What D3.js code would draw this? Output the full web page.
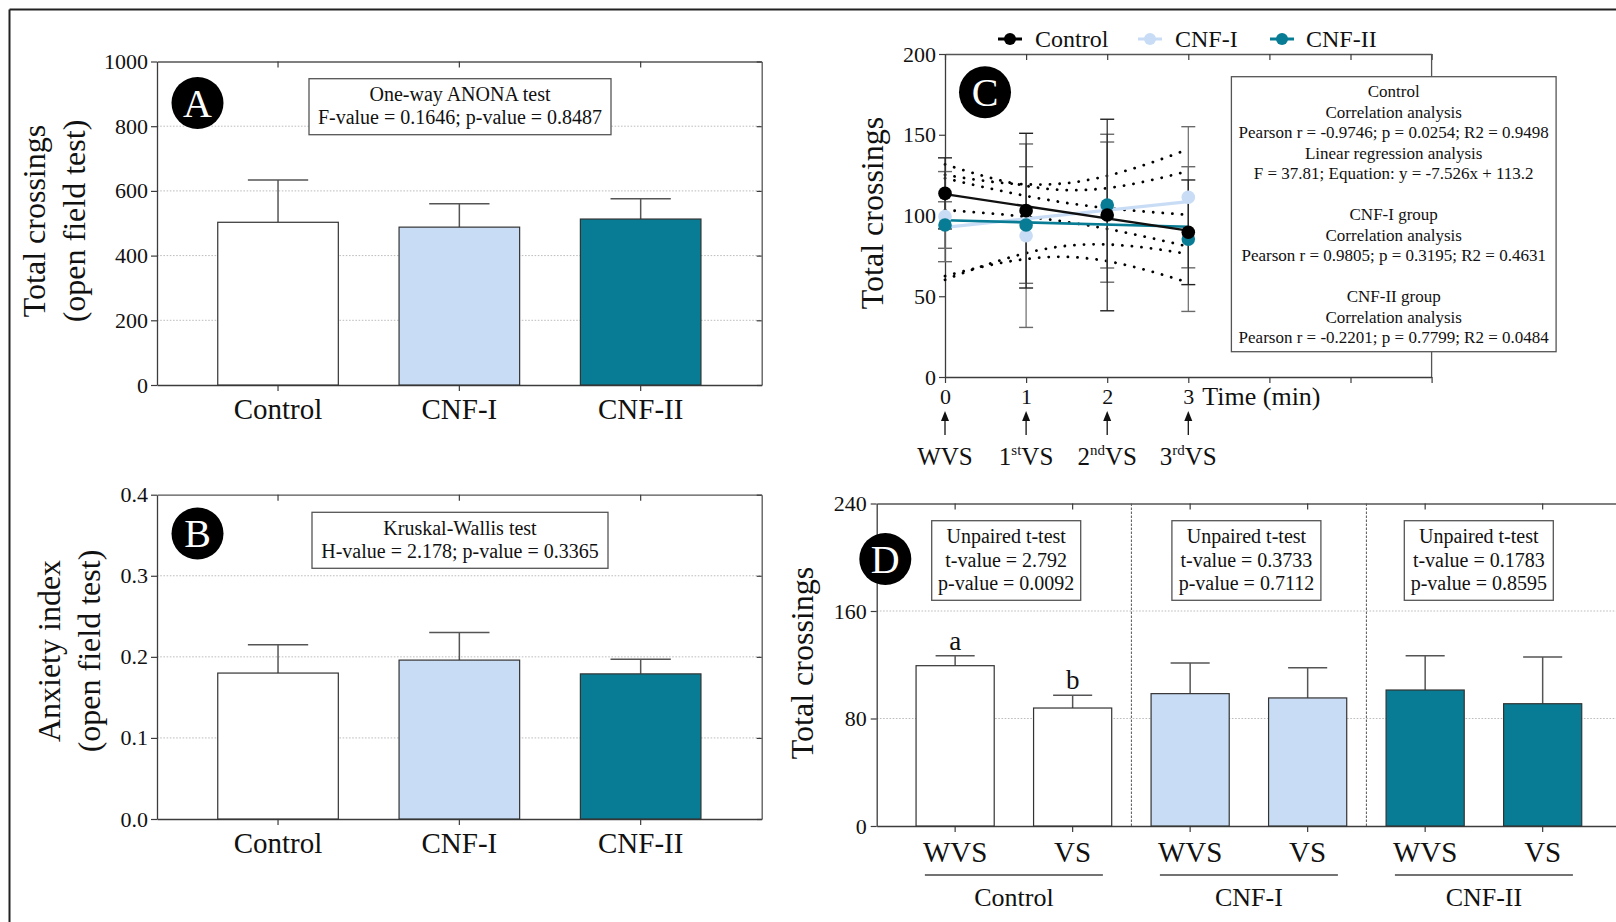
<!DOCTYPE html>
<html>
<head>
<meta charset="utf-8">
<script src="https://cdn.jsdelivr.net/npm/d3@7"></script>
<style>
  html, body { margin: 0; padding: 0; background: #ffffff; }
  svg { display: block; font-family: 'Liberation Serif', 'Times New Roman', serif; }
</style>
</head>
<body>
<svg id="fig" width="1616" height="922"></svg>
<script>
// ---------------- data ----------------
const groups = ["Control", "CNF-I", "CNF-II"];
const groupFill = ["#ffffff", "#c8ddf5", "#087c94"];

// A - total crossings in the open field test (mean and upper error)
const crossingsMean = [503, 488, 513];
const crossingsErr = [131, 72, 63];
const crossingsTicks = [0, 200, 400, 600, 800, 1000];
const anovaLines = ["One-way ANONA test", "F-value = 0.1646; p-value = 0.8487"];

// B - anxiety index in the open field test
const anxietyMean = [0.180, 0.196, 0.179];
const anxietyErr = [0.035, 0.034, 0.018];
const anxietyTicks = [0, 0.1, 0.2, 0.3, 0.4];
const kruskalLines = ["Kruskal-Wallis test", "H-value = 2.178; p-value = 0.3365"];

// C - crossings per minute of the test
const minutes = [0, 1, 2, 3];
const minuteTicks = [0, 1, 2, 3, 4, 5, 6];
const minuteLabels = [["WVS", ""], ["1", "st"], ["2", "nd"], ["3", "rd"]];
const crossTicksC = [0, 50, 100, 150, 200];
const controlByMin = [113.7, 103.0, 100.3, 89.6];
const controlByMinErr = [22.0, 47.9, 59.3, 32.4];
const cnf1ByMin = [99.3, 87.5, 104.5, 111.3];
const cnf1ByMinErr = [27.9, 56.8, 45.8, 43.7];
const cnf2ByMin = [94.1, 94.1, 106.5, 85.4];
const cnf2ByMinErr = [14.4, 36.1, 39.0, 44.8];
// fitted lines y = slope * x + intercept, with their R2
const regSlope = [-7.526, 5.30, -1.37];
const regIntercept = [113.2, 92.7, 97.1];
const regR2 = [0.9498, 0.4631, 0.0484];
const statsLines = [
  "Control", "Correlation analysis",
  "Pearson r = -0.9746; p = 0.0254; R2 = 0.9498",
  "Linear regression analysis",
  "F = 37.81; Equation: y = -7.526x + 113.2", "",
  "CNF-I group", "Correlation analysis",
  "Pearson r = 0.9805; p = 0.3195; R2 = 0.4631", "",
  "CNF-II group", "Correlation analysis",
  "Pearson r = -0.2201; p = 0.7799; R2 = 0.0484"
];

// D - crossings without (WVS) and with (VS) visual stimulus
const phases = ["WVS", "VS"];
const dControl = [119.3, 87.8];
const dControlErr = [7.4, 9.5];
const dCnf1 = [98.5, 95.3];
const dCnf1Err = [22.8, 22.5];
const dCnf2 = [101.2, 91.0];
const dCnf2Err = [25.5, 34.8];
const dTicks = [0, 80, 160, 240];
const dLetters = ["a", "b"];
const tTestLines = [
  ["Unpaired t-test", "t-value = 2.792", "p-value = 0.0092"],
  ["Unpaired t-test", "t-value = 0.3733", "p-value = 0.7112"],
  ["Unpaired t-test", "t-value = 0.1783", "p-value = 0.8595"]
];

// ---------------- styling ----------------
const AXIS = "#3c3c3c", FRAME = "#555555", GRID = "#bdbdbd", ERR = "#555555";
const svg = d3.select("#fig");

// outer figure border
svg.append("line").attr("x1", 9.5).attr("x2", 1616).attr("y1", 9.5).attr("y2", 9.5)
  .attr("stroke", "#222").attr("stroke-width", 2);
svg.append("line").attr("x1", 9.5).attr("x2", 9.5).attr("y1", 9.5).attr("y2", 922)
  .attr("stroke", "#222").attr("stroke-width", 2);

function styleAxis(sel, fontSize) {
  sel.selectAll("path.domain").attr("stroke", AXIS).attr("stroke-width", 1.3);
  sel.selectAll(".tick line").attr("stroke", AXIS).attr("stroke-width", 1.2);
  sel.selectAll(".tick text").attr("fill", "#111").style("font-size", fontSize + "px")
    .style("font-family", "'Liberation Serif', serif");
}

function badge(cx, cy, letter) {
  svg.append("circle").attr("cx", cx).attr("cy", cy).attr("r", 26).attr("fill", "#000");
  svg.append("text").attr("x", cx).attr("y", cy + 13.5).attr("text-anchor", "middle")
    .attr("fill", "#fff").style("font-size", "40px").text(letter);
}

function statBox(x, y, w, h, lines, cx, baseline0, step, fontSize) {
  svg.append("rect").attr("x", x).attr("y", y).attr("width", w).attr("height", h)
    .attr("fill", "#fff").attr("stroke", FRAME).attr("stroke-width", 1.3);
  lines.forEach((t, i) => {
    if (!t) return;
    svg.append("text").attr("x", cx).attr("y", baseline0 + i * step)
      .attr("text-anchor", "middle").style("font-size", fontSize + "px").attr("fill", "#111").text(t);
  });
}

function yTitle(text, bx, cy) {
  svg.append("text").attr("transform", `translate(${bx},${cy}) rotate(-90)`)
    .attr("text-anchor", "middle").style("font-size", "32px").attr("fill", "#111").text(text);
}

// frame (left/bottom axes, top/right borders with inner ticks) for a band-x panel
function barFrame(x, y, ticks, fmt, opts) {
  const g = svg.append("g");
  const [xl, xr] = x.range();
  const [yb, yt] = y.range();
  // dotted grid
  g.selectAll("line.grid").data(ticks.filter(t => t > ticks[0] && t < ticks[ticks.length - 1]))
    .join("line").attr("x1", xl).attr("x2", Math.min(xr, 1616)).attr("y1", d => y(d)).attr("y2", d => y(d))
    .attr("stroke", GRID).attr("stroke-width", 1).attr("stroke-dasharray", "1.6,1.6");
  // top border with inner ticks
  const top = g.append("g").attr("transform", `translate(0,${yt})`)
    .call(d3.axisTop(x).tickSize(-6).tickSizeOuter(0).tickFormat(""));
  styleAxis(top, 10);
  top.selectAll("path.domain").attr("stroke", FRAME);
  if (opts.right) {
    const right = g.append("g").attr("transform", `translate(${xr},0)`)
      .call(d3.axisRight(y).tickValues(ticks).tickSize(-5).tickSizeOuter(0).tickFormat(""));
    styleAxis(right, 10);
    right.selectAll("path.domain").attr("stroke", FRAME);
  }
  const left = g.append("g").attr("transform", `translate(${xl},0)`)
    .call(d3.axisLeft(y).tickValues(ticks).tickSize(6).tickPadding(opts.pad || 3).tickSizeOuter(0).tickFormat(fmt));
  styleAxis(left, 22);
  const bottom = g.append("g").attr("transform", `translate(0,${yb})`)
    .call(d3.axisBottom(x).tickSize(6).tickSizeOuter(0).tickFormat(""));
  styleAxis(bottom, 10);
  return g;
}

function bars(x, y, keys, vals, errs, fills) {
  const g = svg.append("g");
  const bw = x.bandwidth();
  keys.forEach((k, i) => {
    const cx = x(k) + bw / 2;
    // error bar (upper only)
    g.append("line").attr("x1", cx).attr("x2", cx).attr("y1", y(vals[i])).attr("y2", y(vals[i] + errs[i]))
      .attr("stroke", ERR).attr("stroke-width", 1.5);
    g.append("line").attr("x1", cx - bw / 4).attr("x2", cx + bw / 4)
      .attr("y1", y(vals[i] + errs[i])).attr("y2", y(vals[i] + errs[i]))
      .attr("stroke", ERR).attr("stroke-width", 1.5);
    g.append("rect").attr("x", x(k)).attr("y", y(vals[i])).attr("width", bw)
      .attr("height", y(0) - y(vals[i])).attr("fill", fills[i])
      .attr("stroke", "#333").attr("stroke-width", 1.2);
  });
  return g;
}

// ---------------- panel A ----------------
{
  const x = d3.scaleBand().domain(groups).range([157, 761.7]).paddingInner(0.335).paddingOuter(0.335);
  const y = d3.scaleLinear().domain([0, 1000]).range([385, 61.5]);
  barFrame(x, y, crossingsTicks, d3.format("d"), { right: true });
  bars(x, y, groups, crossingsMean, crossingsErr, groupFill);
  groups.forEach(k => svg.append("text").attr("x", x(k) + x.bandwidth() / 2).attr("y", 419)
    .attr("text-anchor", "middle").style("font-size", "29px").attr("fill", "#111").text(k));
  statBox(309, 78.7, 302, 56, anovaLines, 460, 101, 23, 20);
  badge(197.5, 103, "A");
  yTitle("Total crossings", 45, 221);
  yTitle("(open field test)", 85, 221);
}

// ---------------- panel B ----------------
{
  const x = d3.scaleBand().domain(groups).range([157, 761.7]).paddingInner(0.335).paddingOuter(0.335);
  const y = d3.scaleLinear().domain([0, 0.4]).range([819, 494.7]);
  barFrame(x, y, anxietyTicks, d3.format(".1f"), { right: true });
  bars(x, y, groups, anxietyMean, anxietyErr, groupFill);
  groups.forEach(k => svg.append("text").attr("x", x(k) + x.bandwidth() / 2).attr("y", 853)
    .attr("text-anchor", "middle").style("font-size", "29px").attr("fill", "#111").text(k));
  statBox(312, 512.3, 296, 56, kruskalLines, 460, 534.5, 23, 20);
  badge(197.5, 533.5, "B");
  yTitle("Anxiety index", 59.5, 651);
  yTitle("(open field test)", 100, 651);
}

// ---------------- panel C ----------------
{
  const x = d3.scaleLinear().domain([0, 6]).range([945, 1431.6]);
  const y = d3.scaleLinear().domain([0, 200]).range([377, 54]);
  const g = svg.append("g");
  const [xl, xr] = x.range(), [yb, yt] = y.range();

  const top = g.append("g").attr("transform", `translate(0,${yt})`)
    .call(d3.axisTop(x).tickValues(minuteTicks).tickSize(-6).tickSizeOuter(0).tickFormat(""));
  styleAxis(top, 10); top.selectAll("path.domain").attr("stroke", FRAME);
  g.append("line").attr("x1", xr).attr("x2", xr).attr("y1", yt).attr("y2", yb).attr("stroke", FRAME).attr("stroke-width", 1.3);
  const left = g.append("g").attr("transform", `translate(${xl},0)`)
    .call(d3.axisLeft(y).tickValues(crossTicksC).tickSize(6).tickPadding(3).tickSizeOuter(0).tickFormat(d3.format("d")));
  styleAxis(left, 22);
  const bottom = g.append("g").attr("transform", `translate(0,${yb})`)
    .call(d3.axisBottom(x).tickValues(minuteTicks).tickSize(6).tickPadding(5).tickSizeOuter(0)
      .tickFormat(d => d <= 3 ? d : ""));
  styleAxis(bottom, 22);
  svg.append("text").attr("x", x(3) + 14).attr("y", 405).style("font-size", "26px").attr("fill", "#111").text("Time (min)");

  // stimulus arrows and labels under the time axis
  minutes.forEach((m, i) => {
    const cx = x(m);
    svg.append("line").attr("x1", cx).attr("x2", cx).attr("y1", 435).attr("y2", 419).attr("stroke", "#111").attr("stroke-width", 1.3);
    svg.append("path").attr("d", `M${cx},411 L${cx - 4},421 L${cx + 4},421 Z`).attr("fill", "#111");
    const t = svg.append("text").attr("x", cx).attr("y", 465).attr("text-anchor", "middle")
      .style("font-size", "25px").attr("fill", "#111");
    const [main, sup] = minuteLabels[i];
    if (!sup) { t.text(main); }
    else {
      t.append("tspan").text(main);
      t.append("tspan").attr("dy", -10).style("font-size", "15px").text(sup);
      t.append("tspan").attr("dy", 10).text("VS");
    }
  });

  const series = [
    { vals: cnf1ByMin, errs: cnf1ByMinErr, color: "#c8ddf5", line: "#c8ddf5", err: "#6a6a6a", lw: 3.2 },
    { vals: cnf2ByMin, errs: cnf2ByMinErr, color: "#087c94", line: "#087c94", err: "#6a6a6a", lw: 2.6 },
    { vals: controlByMin, errs: controlByMinErr, color: "#000000", line: "#111111", err: "#222222", lw: 2.4 }
  ];
  const fitIndex = [1, 2, 0];

  // 95% confidence bands of each fitted line
  const n = minutes.length, xbar = d3.mean(minutes);
  const sxx = d3.sum(minutes, m => (m - xbar) ** 2);
  const tCrit = 4.303; // t(0.975, df = 2)
  const xs = d3.range(0, 3.0001, 0.05);
  [0, 1, 2].forEach(k => {
    const b = regSlope[k], a = regIntercept[k], r2 = regR2[k];
    const ssRes = b * b * sxx * (1 - r2) / r2;
    const s = Math.sqrt(ssRes / (n - 2));
    const hw = v => tCrit * s * Math.sqrt(1 / n + (v - xbar) ** 2 / sxx);
    [-1, 1].forEach(sign => {
      g.append("path").datum(xs)
        .attr("d", d3.line().x(v => x(v)).y(v => y(a + b * v + sign * hw(v))))
        .attr("fill", "none").attr("stroke", "#000").attr("stroke-width", 2.8)
        .attr("stroke-linecap", "round").attr("stroke-dasharray", "0.1,9.5");
    });
  });

  // error bars
  series.forEach(sr => {
    sr.vals.forEach((v, i) => {
      const cx = x(minutes[i]);
      g.append("line").attr("x1", cx).attr("x2", cx).attr("y1", y(v - sr.errs[i])).attr("y2", y(v + sr.errs[i]))
        .attr("stroke", sr.err).attr("stroke-width", 1.2);
      [v - sr.errs[i], v + sr.errs[i]].forEach(e => g.append("line")
        .attr("x1", cx - 7).attr("x2", cx + 7).attr("y1", y(e)).attr("y2", y(e))
        .attr("stroke", sr.err).attr("stroke-width", 1.4));
    });
  });
  // fitted lines
  series.forEach((sr, j) => {
    const k = fitIndex[j];
    g.append("line").attr("x1", x(0)).attr("x2", x(3))
      .attr("y1", y(regIntercept[k])).attr("y2", y(regIntercept[k] + regSlope[k] * 3))
      .attr("stroke", sr.line).attr("stroke-width", sr.lw);
  });
  // means
  series.forEach(sr => {
    g.selectAll(null).data(sr.vals).join("circle")
      .attr("cx", (d, i) => x(minutes[i])).attr("cy", d => y(d)).attr("r", 6.8).attr("fill", sr.color);
  });

  statBox(1231.4, 76.7, 324.7, 275, statsLines, 1393.7, 97, 20.5, 17);
  badge(985, 92.3, "C");
  yTitle("Total crossings", 883, 213);

  // legend
  const legend = [
    { name: "Control", color: "#000000", cx: 1010, tx: 1035 },
    { name: "CNF-I", color: "#c8ddf5", cx: 1150, tx: 1175 },
    { name: "CNF-II", color: "#087c94", cx: 1282, tx: 1306 }
  ];
  legend.forEach(l => {
    svg.append("line").attr("x1", l.cx - 12).attr("x2", l.cx + 12).attr("y1", 39).attr("y2", 39)
      .attr("stroke", l.color).attr("stroke-width", 3);
    svg.append("circle").attr("cx", l.cx).attr("cy", 39).attr("r", 6).attr("fill", l.color);
    svg.append("text").attr("x", l.tx).attr("y", 47).style("font-size", "24px").attr("fill", "#111").text(l.name);
  });
}

// ---------------- panel D ----------------
{
  const keys = [];
  groups.forEach(gname => phases.forEach(p => keys.push(gname + "|" + p)));
  const vals = [...dControl, ...dCnf1, ...dCnf2];
  const errs = [...dControlErr, ...dCnf1Err, ...dCnf2Err];
  const fills = groups.flatMap((gname, i) => phases.map(() => groupFill[i]));
  const x = d3.scaleBand().domain(keys).range([876.7, 1621.1]).paddingInner(0.335).paddingOuter(0.335);
  const y = d3.scaleLinear().domain([0, 240]).range([826, 503.5]);
  barFrame(x, y, dTicks, d3.format("d"), { right: false, pad: 4 });

  const center = k => x(k) + x.bandwidth() / 2;
  // group separators
  for (let gi = 1; gi < groups.length; gi++) {
    const sx = (center(keys[gi * 2 - 1]) + center(keys[gi * 2])) / 2;
    svg.append("line").attr("x1", sx).attr("x2", sx).attr("y1", y(240)).attr("y2", y(0))
      .attr("stroke", "#555").attr("stroke-width", 1).attr("stroke-dasharray", "2.5,1.5");
  }
  bars(x, y, keys, vals, errs, fills);

  keys.forEach(k => svg.append("text").attr("x", center(k)).attr("y", 861.5)
    .attr("text-anchor", "middle").style("font-size", "29px").attr("fill", "#111").text(k.split("|")[1]));
  groups.forEach((gname, gi) => {
    const gc = (center(keys[gi * 2]) + center(keys[gi * 2 + 1])) / 2;
    svg.append("line").attr("x1", gc - 89).attr("x2", gc + 89).attr("y1", 875).attr("y2", 875)
      .attr("stroke", "#444").attr("stroke-width", 1.5);
    svg.append("text").attr("x", gc).attr("y", 905.5).attr("text-anchor", "middle")
      .style("font-size", "26px").attr("fill", "#111").text(gname);
  });
  // significance letters on the control group
  dLetters.forEach((l, i) => svg.append("text").attr("x", center(keys[i]))
    .attr("y", y(dControl[i] + dControlErr[i]) - 6).attr("text-anchor", "middle")
    .style("font-size", "27px").attr("fill", "#111").text(l));

  const boxX = [931.7, 1171.9, 1404.3];
  tTestLines.forEach((lines, i) => statBox(boxX[i], 520.7, 149, 79.6, lines, boxX[i] + 74.5, 543.3, 23.4, 20));
  badge(885.3, 559, "D");
  yTitle("Total crossings", 813, 663);
}
</script>
</body>
</html>
